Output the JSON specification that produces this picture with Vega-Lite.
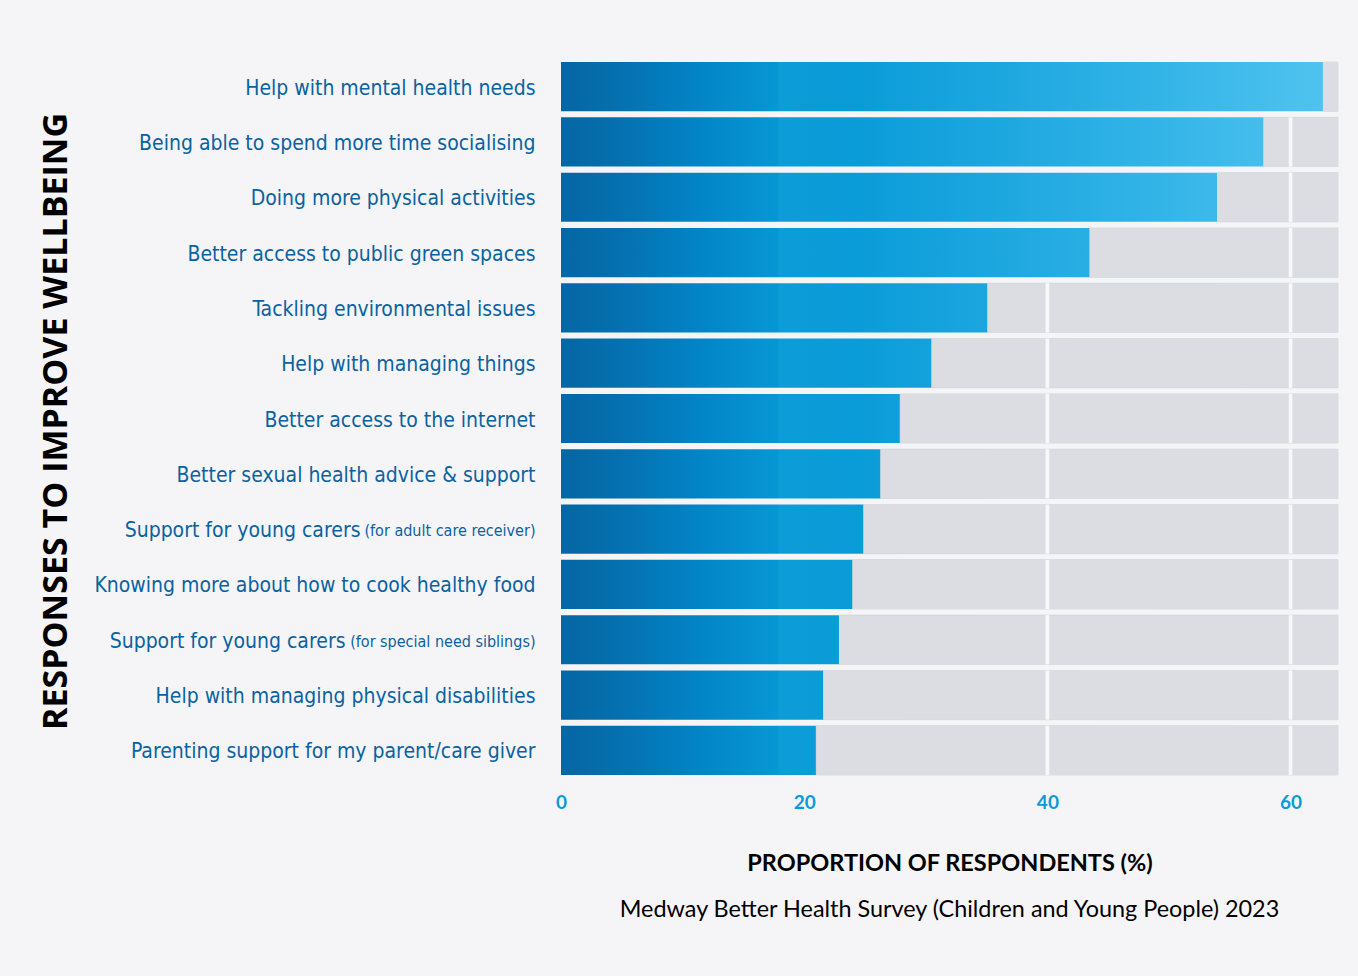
{
  "$schema": "https://vega.github.io/schema/vega-lite/v6.json",
  "width": 777,
  "height": 713,
  "autosize": "none",
  "padding": {"left": 561, "top": 62, "right": 20, "bottom": 201},
  "background": "#f5f5f8",
  "config": {"view": {"stroke": null}},
  "data": {"values": [
    {"label": "Help with mental health needs", "pct": 62.7},
    {"label": "Being able to spend more time socialising", "pct": 57.8},
    {"label": "Doing more physical activities", "pct": 54.0},
    {"label": "Better access to public green spaces", "pct": 43.5},
    {"label": "Tackling environmental issues", "pct": 35.1},
    {"label": "Help with managing things", "pct": 30.5},
    {"label": "Better access to the internet", "pct": 27.9},
    {"label": "Better sexual health advice & support", "pct": 26.3},
    {"label": "Support for young carers (for adult care receiver)", "pct": 24.9},
    {"label": "Knowing more about how to cook healthy food", "pct": 24.0},
    {"label": "Support for young carers (for special need siblings)", "pct": 22.9},
    {"label": "Help with managing physical disabilities", "pct": 21.6},
    {"label": "Parenting support for my parent/care giver", "pct": 21.0}
  ]},
  "title": {
    "text": "Medway Better Health Survey (Children and Young People) 2023",
    "orient": "bottom",
    "anchor": "middle",
    "frame": "group",
    "font": "Lato",
    "fontSize": 23.4,
    "fontWeight": "normal",
    "color": "#000000",
    "offset": 24
  },
  "resolve": {"scale": {"y": "independent"}, "axis": {"y": "independent"}},
  "layer": [
    {
      "encoding": {
        "y": {
          "field": "label", "type": "nominal", "sort": null,
          "scale": {"paddingInner": 0.11, "paddingOuter": 0},
          "axis": {
            "orient": "left",
            "title": "RESPONSES TO IMPROVE WELLBEING",
            "titleFont": "Open Sans",
            "titleFontWeight": "bold",
            "titleFontSize": 34,
            "titleColor": "#000000",
            "titleAngle": -90,
            "titleX": -505,
            "titleY": 359,
            "titleAlign": "center",
            "titleBaseline": "middle",
            "domain": false,
            "ticks": false,
            "grid": false,
            "labelFont": "DejaVu Sans Condensed, Liberation Sans Narrow, Arial Narrow, sans-serif",
            "labelFontSize": 21,
            "labelColor": "#0a62a0",
            "labelLimit": 600,
            "labelOffset": 2,
            "labelExpr": "split(datum.label, ' (')[0]",
            "labelPadding": {
              "condition": [
                {"test": "indexof(datum.label, 'adult') >= 0", "value": 201},
                {"test": "indexof(datum.label, 'siblings') >= 0", "value": 216}
              ],
              "value": 26
            }
          }
        }
      },
      "layer": [
        {
          "mark": {
            "type": "bar",
            "color": {
              "gradient": "linear",
              "x1": 0, "y1": 0, "x2": 1, "y2": 0,
              "stops": [
                {"offset": 0, "color": "#0566a3"},
                {"offset": 0.08, "color": "#0571b0"},
                {"offset": 0.17, "color": "#0283c5"},
                {"offset": 0.279, "color": "#0797d5"},
                {"offset": 0.281, "color": "#0c9dd9"},
                {"offset": 0.38, "color": "#0a9cd8"},
                {"offset": 0.58, "color": "#1fa8e0"},
                {"offset": 0.78, "color": "#34b5e8"},
                {"offset": 0.98, "color": "#4fc3ef"},
                {"offset": 1, "color": "#52c5f0"}
              ]
            }
          },
          "encoding": {
            "x": {
              "datum": 0, "type": "quantitative",
              "scale": {"domain": [0, 63.9], "nice": false, "zero": true},
              "axis": {
                "values": [0, 20, 40, 60],
                "domain": false, "ticks": false, "grid": false,
                "labelFlush": false,
                "labelFont": "Lato", "labelFontWeight": "bold", "labelFontSize": 19,
                "labelColor": "#0a9ad6", "labelPadding": 18,
                "title": "PROPORTION OF RESPONDENTS (%)",
                "titleFont": "Lato", "titleFontWeight": "bold", "titleFontSize": 23.5,
                "titleColor": "#000000", "titlePadding": 39
              }
            },
            "x2": {"datum": 63.9}
          }
        },
        {
          "mark": {"type": "bar", "color": "#dcdde2", "stroke": "#dcdde2", "strokeWidth": 1},
          "encoding": {
            "x": {"field": "pct", "type": "quantitative"},
            "x2": {"datum": 63.9}
          }
        },
        {
          "transform": [{"filter": "datum.pct < 40"}],
          "mark": {"type": "bar", "color": "#f8f8fa"},
          "encoding": {
            "x": {"datum": 39.85, "type": "quantitative"},
            "x2": {"datum": 40.15}
          }
        },
        {
          "transform": [{"filter": "datum.pct < 60"}],
          "mark": {"type": "bar", "color": "#f8f8fa"},
          "encoding": {
            "x": {"datum": 59.85, "type": "quantitative"},
            "x2": {"datum": 60.15}
          }
        }
      ]
    },
    {
      "mark": {"type": "bar", "opacity": 0},
      "encoding": {
        "x": {"datum": 0, "type": "quantitative"},
        "x2": {"datum": 1},
        "y": {
          "field": "label", "type": "nominal", "sort": null,
          "scale": {"paddingInner": 0.11, "paddingOuter": 0},
          "axis": {
            "orient": "left",
            "title": null,
            "domain": false,
            "ticks": false,
            "grid": false,
            "labelFont": "DejaVu Sans Condensed, Liberation Sans Narrow, Arial Narrow, sans-serif",
            "labelFontSize": 16,
            "labelColor": "#0a62a0",
            "labelLimit": 600,
            "labelPadding": 26,
            "labelOffset": 2,
            "labelExpr": "indexof(datum.label, ' (') >= 0 ? '(' + split(datum.label, ' (')[1] : ''"
          }
        }
      }
    }
  ]
}
